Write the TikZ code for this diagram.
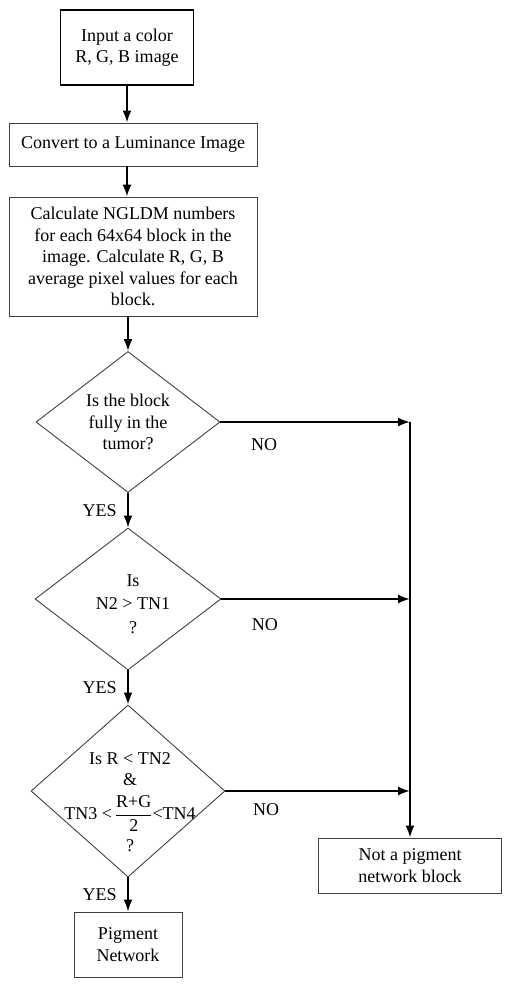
\documentclass[tikz,border=0pt]{standalone}
\usepackage{fontspec}
\setmainfont{Liberation Serif}
\usepackage{amsmath}
\usetikzlibrary{shapes.geometric,arrows.meta,positioning}
\tikzset{
  box/.style={draw=black!75,line width=0.9pt,align=center,inner sep=0pt},
  decision/.style={diamond,draw=black!75,line width=0.9pt,inner sep=0pt},
  flow/.style={-{Latex[length=12pt,width=9pt]},line width=2pt},
}

\begin{document}
\begin{tikzpicture}[x=1pt,y=1pt,node distance=10pt,on grid,auto,font=\fontsize{18}{21.5}\selectfont]
\useasboundingbox (0,0) rectangle (514,-986);
\node[box,draw=black,line width=1.8pt,minimum width=133pt,minimum height=75pt](input) at (127,-47.5) {Input a color\\R, G, B image};
\node[box,minimum width=248pt,minimum height=43pt](lum)[below=97pt of input,xshift=6pt]{Convert to a Luminance Image};
\node[box,minimum width=248pt,minimum height=119pt](calc)[below=112pt of lum]{Calculate NGLDM numbers\\for each 64x64 block in the\\image. Calculate R, G, B\\average pixel values for each\\block.};
\node[decision,minimum width=184pt,minimum height=141pt,label={[align=center]center:Is the block\\fully in the\\tumor?}](d1)[below=165.5pt of calc,xshift=-5pt]{};
\node[decision,minimum width=186pt,minimum height=142pt,label={[align=center,xshift=5pt,yshift=-5pt]center:Is\\[2pt]N2 > TN1\\[2pt]?}](d2)[below=177pt of d1]{};
\node[decision,minimum width=194pt,minimum height=172pt,label={[align=center,xshift=2pt,yshift=-11pt]center:Is R < TN2\\\&\\[9pt]TN3 <\,$\dfrac{\text{R+G}}{\text{2}}$<TN4\\[7pt]?}](d3)[below=192pt of d2]{};
\node[box,minimum width=108pt,minimum height=65pt](pig)[below=153.5pt of d3]{Pigment\\Network};
\node[box,minimum width=183pt,minimum height=55pt](notpig)[right=282pt of d3,yshift=-74.5pt]{Not a pigment\\network block};
\node[coordinate](top) at (d1 -| notpig){};
% main line
\draw[flow] (input) -- (input |- lum.north);
\draw[flow] (lum.south -| input) -- (calc.north -| input);
\draw[flow] (calc.south -| d1) -- (d1.north);
\draw[flow] (d1.south) -- (d2.north) node[midway,swap,xshift=-7pt] {YES};
\draw[flow] (d2.south) -- (d3.north) node[midway,swap,xshift=-7pt] {YES};
\draw[flow] (d3.south) -- (pig.north -| d3) node[midway,swap,xshift=-7pt] {YES};
% NO branch
\draw[flow] (d1.east) -- (top) node[pos=0.23,anchor=center,yshift=-23pt] {NO};
\draw[flow] (d2.east) -- (d2 -| notpig) node[pos=0.23,anchor=center,yshift=-26pt] {NO};
\draw[flow] (d3.east) -- (d3 -| notpig) node[pos=0.22,anchor=center,yshift=-19pt] {NO};
\draw[flow] (top) -- (notpig);
\end{tikzpicture}
\end{document}
